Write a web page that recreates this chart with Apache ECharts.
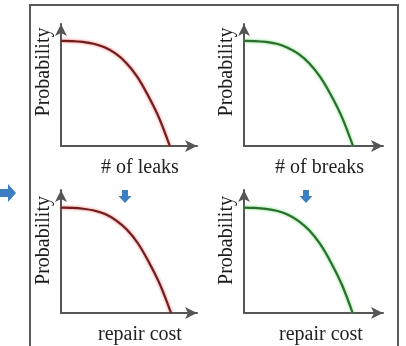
<!DOCTYPE html>
<html>
<head>
<meta charset="utf-8">
<script src="https://cdn.jsdelivr.net/npm/echarts@6/dist/echarts.min.js"></script>
<style>
  html, body { margin: 0; padding: 0; background: #fff; }
  #chart { width: 406px; height: 346px; }
</style>
</head>
<body>
<div id="chart"></div>
<script>
// Exceedance-style probability curves: count of leaks / breaks, then repair cost.
const xLevels = [0, 0.1, 0.2, 0.3, 0.4, 0.5, 0.6, 0.7, 0.8, 0.9, 1.0];
const leaksProb = [1.0, 0.998, 0.99, 0.972, 0.938, 0.88, 0.79, 0.66, 0.48, 0.27, 0.0];
const breaksProb = [1.0, 0.998, 0.99, 0.972, 0.935, 0.875, 0.785, 0.655, 0.48, 0.27, 0.0];
const leakCostProb = [1.0, 0.998, 0.99, 0.973, 0.94, 0.88, 0.79, 0.66, 0.48, 0.27, 0.0];
const breakCostProb = [1.0, 0.997, 0.988, 0.97, 0.935, 0.875, 0.785, 0.655, 0.48, 0.27, 0.0];
const xNames = ['# of leaks', '# of breaks', 'repair cost', 'repair cost'];
const yName = 'Probability';

const panels = [
  { grid: { left: 61, top: 24, width: 136, height: 122 }, xMax: 1.25, yMax: 1.16, data: leaksProb, red: true, shift: 22, lift: 26 },
  { grid: { left: 244, top: 24, width: 139, height: 122 }, xMax: 1.275, yMax: 1.16, data: breaksProb, red: false, shift: 12, lift: 26 },
  { grid: { left: 61, top: 190, width: 136, height: 125 }, xMax: 1.236, yMax: 1.168, data: leakCostProb, red: true, shift: 22, lift: 22 },
  { grid: { left: 244, top: 190, width: 139, height: 124 }, xMax: 1.279, yMax: 1.167, data: breakCostProb, red: false, shift: 15, lift: 22 }
];

const serif = 'Liberation Serif';
const axisLine = {
  show: true,
  symbol: ['none', 'arrow'],
  symbolSize: [9, 12],
  lineStyle: { color: '#555', width: 2 }
};

const grids = [], xAxes = [], yAxes = [], series = [];
panels.forEach((p, i) => {
  grids.push(p.grid);
  xAxes.push({
    gridIndex: i, type: 'value', min: 0, max: p.xMax,
    axisLine: axisLine, axisTick: { show: false }, axisLabel: { show: false }, splitLine: { show: false },
    name: xNames[i], nameLocation: 'middle', nameGap: 12,
    nameTextStyle: { fontFamily: serif, fontSize: 20, color: '#222', padding: [0, 0, 0, p.shift] }
  });
  yAxes.push({
    gridIndex: i, type: 'value', min: 0, max: p.yMax,
    axisLine: axisLine, axisTick: { show: false }, axisLabel: { show: false }, splitLine: { show: false },
    name: yName, nameLocation: 'middle', nameGap: 7,
    nameTextStyle: { fontFamily: serif, fontSize: 20, color: '#1a1a1a', padding: [0, 0, 0, p.lift] }
  });
  series.push({
    type: 'line', xAxisIndex: i, yAxisIndex: i, smooth: 0.35, symbol: 'none',
    data: xLevels.map((x, k) => [x, p.data[k]]),
    lineStyle: p.red
      ? { color: '#6e1f1f', width: 2.2, shadowColor: 'rgba(235,70,70,0.8)', shadowBlur: 3 }
      : { color: '#2c6e30', width: 2.2, shadowColor: 'rgba(90,215,90,0.9)', shadowBlur: 3 }
  });
});

// Frame around the four panels and the blue flow arrows.
const blue = '#3b7fc2';
const downArrow = (cx) => ({
  type: 'polygon',
  shape: { points: [[cx - 3, 190], [cx + 3, 190], [cx + 3, 196], [cx + 6.5, 196], [cx, 203], [cx - 6.5, 196], [cx - 3, 196]] },
  style: { fill: blue }
});
const graphic = [
  { type: 'rect', shape: { x: 30, y: 5, width: 368, height: 360 }, style: { fill: 'none', stroke: '#5a5a5a', lineWidth: 2 }, z: -1 },
  { type: 'polygon', shape: { points: [[0, 189], [8, 189], [8, 184], [16, 193], [8, 202], [8, 197], [0, 197]] }, style: { fill: blue } },
  downArrow(125),
  downArrow(306)
];

const chart = echarts.init(document.getElementById('chart'), null, { renderer: 'canvas' });
chart.setOption({
  animation: false,
  backgroundColor: '#fff',
  grid: grids, xAxis: xAxes, yAxis: yAxes, series: series, graphic: graphic
});
</script>
</body>
</html>
